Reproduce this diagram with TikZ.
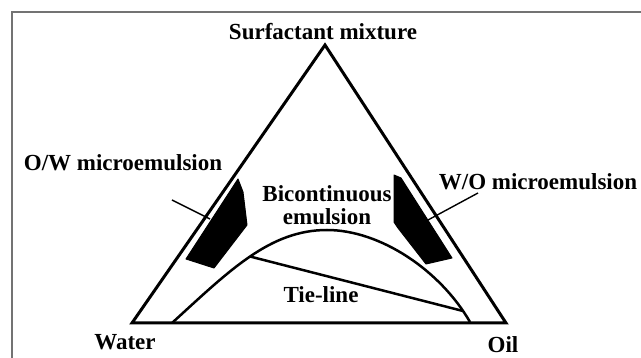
\documentclass[tikz,border=0pt]{standalone}
\usepackage{fontspec}
\setmainfont{Liberation Serif}
\begin{document}
\begin{tikzpicture}[
        x=1pt, y=-1pt,
        txt/.style={font=\fontsize{23}{23}\selectfont\bfseries, inner sep=0pt, align=center},
        side/.style={line width=3pt, line join=miter},
        curve/.style={line width=2.5pt},
        leader/.style={line width=1.4pt},
        blob/.style={fill=black, draw=black, line width=1pt, line join=round},
    ]
        \useasboundingbox (0,0) rectangle (641,358);
        \draw [black!55, line width=1.5pt] (641,12) -- (12,12) -- (12,358);

        \coordinate (water) at (132,323);
        \coordinate (oil) at (506,323);
        \coordinate (apex) at (325,45);
        \draw [side] (water) -- (apex) -- (oil) -- cycle;

        \coordinate (lo) at (172,323);
        \coordinate (peak) at (327,230);
        \coordinate (hi) at (470,322);
        \draw [curve] (lo) .. controls (230,270) and (270,230) .. (peak)
            .. controls (380,230) and (440,270) .. (hi);

        \coordinate (tie a) at (250,256.5);
        \coordinate (tie b) at (463,311);
        \draw [curve] (tie a) -- (tie b);

        \draw [blob] (238,179) -- (243,192) -- (247,225) -- (214,268) -- (186,259) -- cycle;
        \draw [blob] (394,175) -- (401,178) -- (452,258) -- (426,264) -- (398,228) -- (394,222) -- cycle;

        \node (surf) [txt] at (323,32) {Surfactant mixture};
        \node (ow) [txt] at (123,163) {O/W microemulsion};
        \node (wo) [txt] at (538,182) {W/O microemulsion};
        \node (bic) [txt] at (327,205) {Bicontinuous\\emulsion};
        \node (tie) [txt] at (321,295) {Tie-line};
        \node (wlab) [txt] at (125,342) {Water};
        \node (olab) [txt] at (503,345) {Oil};

        \coordinate (ow foot) at (172,200);
        \coordinate (ow tip) at (210,219);
        \coordinate (wo foot) at (478,193);
        \coordinate (wo tip) at (428,220);
        \draw [leader] (ow foot) -- (ow tip);
        \draw [leader] (wo foot) -- (wo tip);
    \end{tikzpicture}
\end{document}
